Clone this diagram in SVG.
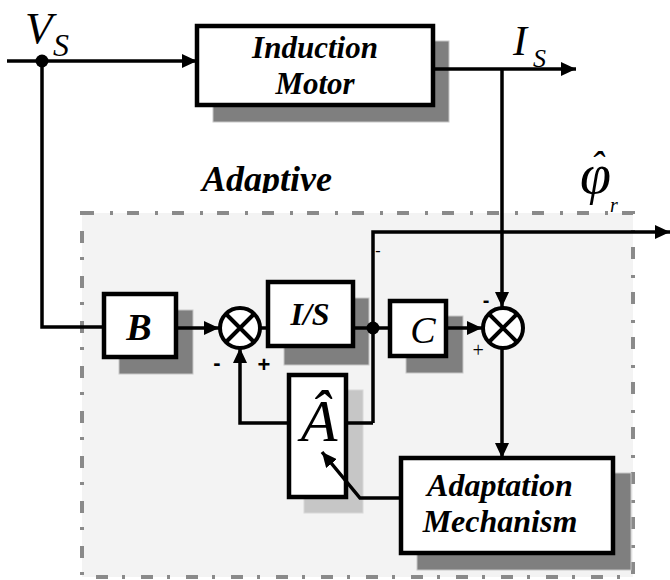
<svg xmlns="http://www.w3.org/2000/svg" width="670" height="580" viewBox="0 0 670 580">
<style>
.box{fill:#fff;stroke:#000;stroke-width:4.5}
.sh{fill:#7f7f7f;stroke:#c8c8c8;stroke-width:1}
.shl{fill:#c6c6c6;stroke:#d8d8d8;stroke-width:1}
.ln{fill:none;stroke:#000;stroke-width:3.5}
.lbl{font-family:"Liberation Serif","Times New Roman",serif;font-weight:bold;font-style:italic;fill:#000}
.sym{font-family:"Liberation Serif","Times New Roman",serif;font-style:italic;fill:#000}
.sgn{font-family:"Liberation Sans",Arial,sans-serif;font-weight:bold;fill:#000}
.sum{fill:#fff;stroke:#000;stroke-width:4}
</style>
<defs>
<marker id="ah" markerUnits="userSpaceOnUse" markerWidth="16" markerHeight="14" refX="15" refY="7" orient="auto">
<path d="M0,0 L15,7 L0,14 Z" fill="#000"/>
</marker>
<clipPath id="clipA"><rect x="0" y="0" width="670" height="193"/></clipPath>
</defs>
<rect width="670" height="580" fill="#fff"/>
<g id="adaptive-frame">
<text class="lbl" x="267" y="191" font-size="36" text-anchor="middle" clip-path="url(#clipA)">Adaptive</text>
<rect x="82" y="213" width="551" height="364" fill="#f3f3f3" stroke="#8a8a8a" stroke-width="4" stroke-dasharray="12 16 3 14"/>
</g>
<g id="shadows">
<rect class="sh" x="213" y="41" width="236" height="81"/>
<rect class="sh" x="119" y="310" width="74" height="64"/>
<rect class="sh" x="284" y="298" width="85" height="67"/>
<rect class="sh" x="406" y="316" width="57" height="57"/>
<rect class="sh" x="417" y="473" width="214" height="97"/>
<rect class="shl" x="304" y="390" width="59" height="123"/>
</g>
<g id="vs-label">
<text class="sym" x="25" y="43" font-size="45">V</text>
<text class="sym" x="53" y="56" font-size="32">S</text>
</g>
<g id="is-label">
<text class="sym" x="513" y="55" font-size="42">I</text>
<text class="sym" x="533" y="67" font-size="26">S</text>
</g>
<g id="phi-label">
<text class="sym" x="580" y="193" font-size="56">φ<tspan x="597" y="179" font-size="40" text-anchor="middle">ˆ</tspan></text>
<text class="sym" x="610" y="212" font-size="20">r</text>
</g>
<g id="induction-motor">
<rect class="box" x="197" y="26" width="236" height="79"/>
<text class="lbl" x="315" y="58" font-size="31" text-anchor="middle">Induction</text>
<text class="lbl" x="315" y="94" font-size="31" text-anchor="middle">Motor</text>
</g>
<g id="block-b">
<rect class="box" x="104" y="294" width="72" height="63"/>
<text class="lbl" x="139" y="340" font-size="38" text-anchor="middle">B</text>
</g>
<g id="sum1">
<circle class="sum" cx="240" cy="328" r="20"/>
<path d="M226,314 L254,342 M254,314 L226,342" stroke="#000" stroke-width="4"/>
<text class="sgn" x="217" y="370" font-size="22" text-anchor="middle">-</text>
<text class="sgn" x="264" y="372" font-size="22" text-anchor="middle">+</text>
</g>
<g id="block-is">
<rect class="box" x="268" y="282" width="85" height="64"/>
<text class="lbl" x="310" y="325" font-size="32" text-anchor="middle">I/S</text>
</g>
<g id="block-c">
<rect class="box" x="390" y="301" width="56" height="55"/>
<text class="sym" x="423" y="343" font-size="38" text-anchor="middle">C</text>
</g>
<g id="sum2">
<circle class="sum" cx="503" cy="328" r="20"/>
<path d="M489,314 L517,342 M517,314 L489,342" stroke="#000" stroke-width="4"/>
<text class="sgn" x="486" y="307" font-size="20" text-anchor="middle">-</text>
<text class="sym" x="478" y="357" font-size="20" text-anchor="middle">+</text>
</g>
<g id="minus-mark">
<text class="sym" x="378" y="256" font-size="16" text-anchor="middle">-</text>
</g>
<g id="block-ahat">
<rect class="box" x="289" y="375" width="57" height="122"/>
<text class="sym" x="319" y="441" font-size="60" text-anchor="middle">Â</text>
</g>
<g id="adaptation-mechanism">
<rect class="box" x="401" y="458" width="212" height="95"/>
<text class="lbl" x="500" y="496" font-size="32" text-anchor="middle">Adaptation</text>
<text class="lbl" x="500" y="532" font-size="32" text-anchor="middle">Mechanism</text>
</g>
<g id="connectors">
<line class="ln" x1="7" y1="61" x2="197" y2="61" marker-end="url(#ah)"/>
<polyline class="ln" points="42,61 42,327 104,327"/>
<line class="ln" x1="433" y1="69" x2="576" y2="69" marker-end="url(#ah)"/>
<line class="ln" x1="502" y1="69" x2="502" y2="307" marker-end="url(#ah)"/>
<line class="ln" x1="176" y1="328" x2="219" y2="328" marker-end="url(#ah)"/>
<line class="ln" x1="260" y1="328" x2="268" y2="328"/>
<line class="ln" x1="353" y1="328" x2="390" y2="328"/>
<polyline class="ln" points="373,423 373,232 670,232" marker-end="url(#ah)"/>
<line class="ln" x1="347" y1="423" x2="373" y2="423"/>
<polyline class="ln" points="289,423 240,423 240,348" marker-end="url(#ah)"/>
<line class="ln" x1="446" y1="328" x2="482" y2="328" marker-end="url(#ah)"/>
<line class="ln" x1="502" y1="348" x2="502" y2="458" marker-end="url(#ah)"/>
<polyline class="ln" points="401,498 360,498 322,452" marker-end="url(#ah)"/>
<circle cx="42" cy="61" r="6.5" fill="#000"/>
<circle cx="373" cy="328" r="6.5" fill="#000"/>
</g>
</svg>
